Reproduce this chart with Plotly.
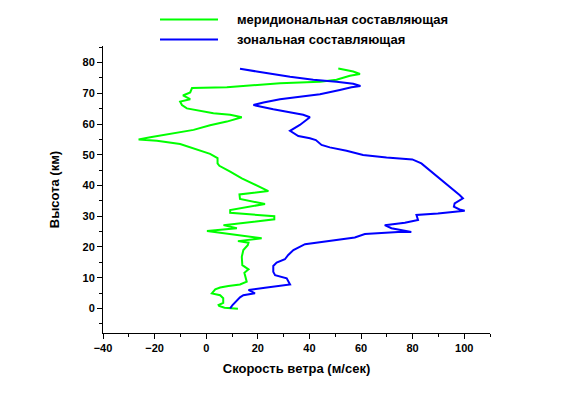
import plotly.graph_objects as go

# Meridional component (green): speed (m/s) vs altitude (km)
merid_speed = [12.3, 7.1, 5.0, 4.8, 6.6, 6.6, 5.4, 2.2, 3.5, 5.4, 8.6, 13.1, 15.7, 15.1, 14.8,
               16.4, 15.4, 14.0, 13.8, 14.4, 16.1, 16.4, 12.3, 21.5, 0.3, 11.9, 6.7, 26.4, 26.4,
               9.3, 9.3, 22.8, 13.1, 12.9, 24.1, 18.6, 13.8, 9.3, 5.1, 4.4, 4.4, 1.5, -3.6,
               -10.1, -19.1, -26.2, -21.7, -13.9, -4.9, 1.5, 8.0, 13.8, 9.3, 2.8, -3.6, -7.5,
               -9.4, -10.1, -6.2, -9.0, -6.2, -5.5, 8.0, 28.6, 44.1, 50.5, 55.7, 59.6, 57.0,
               54.5, 51.2]
merid_alt = [-0.1, 0.2, 0.8, 1.1, 1.8, 3.3, 4.3, 4.9, 6.2, 6.8, 7.3, 7.8, 8.7, 10.3, 11.6,
             12.7, 13.4, 14.1, 16.8, 19.0, 20.6, 21.4, 21.9, 22.8, 25.2, 26.1, 27.1, 29.0, 30.0,
             31.1, 32.0, 34.0, 35.6, 37.1, 38.2, 40.5, 42.3, 44.5, 46.4, 47.2, 48.9, 50.3, 51.8,
             53.5, 54.6, 55.0, 55.7, 56.8, 58.1, 59.6, 60.8, 62.2, 63.0, 63.5, 64.4, 65.1,
             66.2, 67.3, 68.1, 69.3, 70.3, 71.7, 72.0, 73.3, 73.8, 74.4, 75.7, 76.3, 77.1,
             77.6, 78.1]

# Zonal component (blue)
zonal_speed = [9.3, 10.2, 13.1, 14.4, 18.9, 16.4, 22.8, 32.5, 31.2, 28.6, 26.7, 26.0, 26.0,
               27.3, 30.5, 31.8, 33.8, 38.3, 44.7, 57.6, 61.5, 74.4, 79.5, 71.8, 69.2, 77.0,
               82.1, 81.5, 89.8, 100.2, 98.2, 96.0, 96.3, 99.5, 98.2, 95.0, 91.8, 87.9, 85.3,
               83.4, 79.9, 69.9, 60.8, 54.4, 47.9, 44.7, 42.5, 40.2, 35.7, 32.5, 36.3, 40.2,
               37.6, 32.5, 26.0, 20.9, 18.3, 22.2, 28.6, 36.3, 44.1, 51.8, 56.3, 59.8, 57.0,
               50.5, 41.5, 32.5, 24.7, 19.6, 13.1]
zonal_alt = [0.0, 1.1, 3.6, 4.3, 4.9, 6.0, 6.7, 7.8, 9.8, 10.3, 10.8, 11.9, 13.8,
             14.9, 16.0, 17.4, 19.0, 20.9, 21.7, 23.1, 24.2, 24.9, 24.9, 26.1, 27.1, 27.9,
             28.8, 30.4, 30.9, 31.8, 32.2, 33.1, 34.2, 35.8, 36.9, 39.1, 41.2, 44.0, 45.6,
             47.2, 48.5, 49.1, 49.9, 51.3, 52.4, 53.2, 54.8, 55.4, 56.1, 57.8, 59.7, 62.2,
             63.0, 63.7, 64.8, 65.7, 66.2, 67.0, 68.1, 68.9, 69.7, 71.1, 72.0, 72.4, 73.1,
             73.8, 74.4, 75.4, 76.3, 77.1, 78.0]

series_names = ["меридиональная составляющая", "зональная составляющая"]
series_colors = ["#00FF00", "#0000FF"]
x_ticks = [-40, -20, 0, 20, 40, 60, 80, 100]
y_ticks = [0, 10, 20, 30, 40, 50, 60, 70, 80]

FONT = "Arial, 'Liberation Sans', sans-serif"

fig = go.Figure()
for xs, ys, name, col in [(merid_speed, merid_alt, series_names[0], series_colors[0]),
                          (zonal_speed, zonal_alt, series_names[1], series_colors[1])]:
    fig.add_trace(go.Scatter(x=xs, y=ys, mode="lines", name=name,
                             line=dict(color=col, width=2), showlegend=False))

# Plot-area geometry (page pixels); page body has an 8px margin
OFF = 8
L, T, W, H = 103, 46, 387, 287

def px2paper(px, py):
    return (px - L) / W, (T + H - py) / H

# Legend replica (line samples + labels) above the plot
for i, (name, col) in enumerate(zip(series_names, series_colors)):
    py = 19.5 + 20 * i
    x0, y0 = px2paper(160, py)
    x1, _ = px2paper(218, py)
    fig.add_shape(type="line", xref="paper", yref="paper", x0=x0, x1=x1, y0=y0, y1=y0,
                  line=dict(color=col, width=2))
    tx, _ = px2paper(235, py)
    fig.add_annotation(xref="paper", yref="paper", x=tx, y=y0, text=name, showarrow=False,
                       xanchor="left", yanchor="middle",
                       font=dict(family=FONT, size=13, color="black", weight="bold"))

fig.update_layout(
    width=569, height=398,
    margin=dict(l=L - OFF, r=569 - (L - OFF) - W, t=T - OFF, b=398 - (T - OFF) - H),
    paper_bgcolor="white", plot_bgcolor="white",
    font=dict(family=FONT, color="black"),
)
fig.update_xaxes(range=[-40, 110], tickvals=x_ticks, showgrid=False, zeroline=False,
                 showline=True, linecolor="black", linewidth=1,
                 ticks="outside", ticklen=5, tickcolor="black",
                 minor=dict(dtick=10, tick0=0, ticks="outside", ticklen=3, tickcolor="black", showgrid=False),
                 tickfont=dict(family=FONT, size=11, weight="bold"),
                 title=dict(text="Скорость ветра (м/сек)", standoff=10,
                            font=dict(family=FONT, size=13, weight="bold")))
fig.update_yaxes(range=[-8, 85.4], tickvals=y_ticks, showgrid=False, zeroline=False,
                 showline=True, linecolor="black", linewidth=1,
                 ticks="outside", ticklen=5, tickcolor="black",
                 minor=dict(dtick=5, tick0=0, ticks="outside", ticklen=3, tickcolor="black", showgrid=False),
                 tickfont=dict(family=FONT, size=11, weight="bold"),
                 title=dict(text="Высота (км)", standoff=19,
                            font=dict(family=FONT, size=13, weight="bold")))

fig.write_html("out.html")
